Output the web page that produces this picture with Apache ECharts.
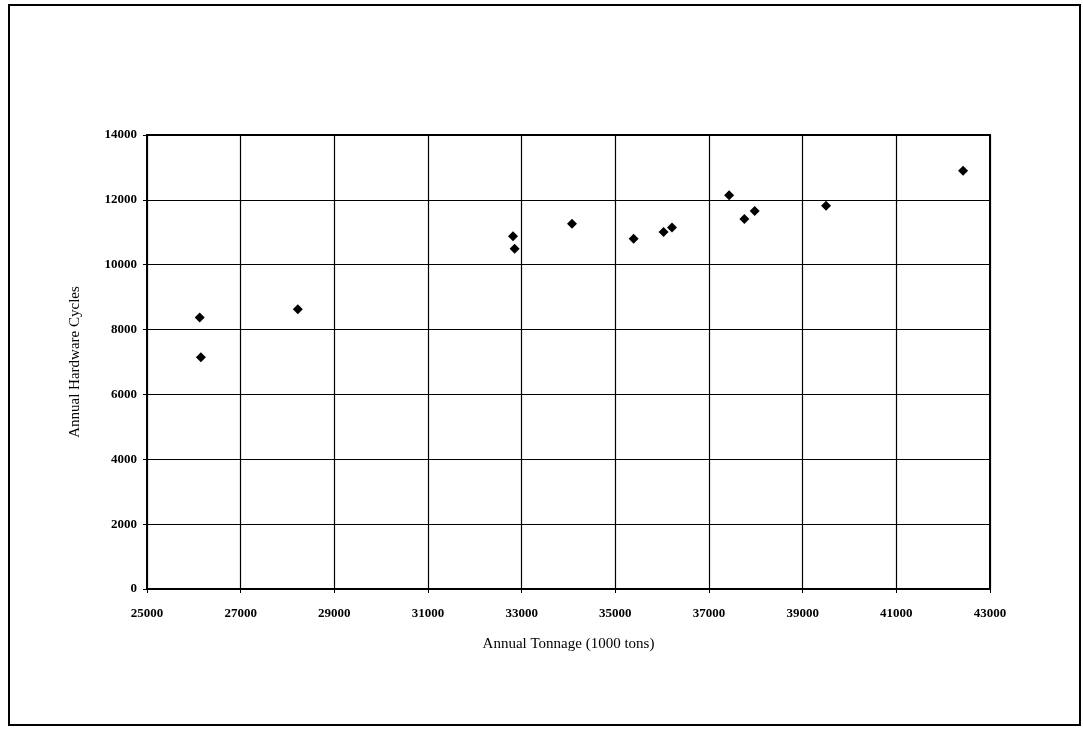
<!DOCTYPE html>
<html><head><meta charset="utf-8">
<script src="https://cdn.jsdelivr.net/npm/echarts@6/dist/echarts.min.js"></script>
<style>html,body{margin:0;padding:0;background:#fff}#c{width:1083px;height:731px}</style>
</head><body><div id="c"></div>
<script>
const tonnage = [26125, 26150, 28220, 32815, 32850, 34075, 35390, 36030, 36210, 37430, 37755, 37975, 39500, 42425];
const cycles  = [8370, 7150, 8630, 10880, 10490, 11260, 10800, 11010, 11150, 12140, 11410, 11660, 11820, 12900];
const xTitle = 'Annual Tonnage (1000 tons)';
const yTitle = 'Annual Hardware Cycles';

const chart = echarts.init(document.getElementById('c'));
const font = '"Liberation Serif", "DejaVu Serif", serif';
chart.setOption({
  animation: false,
  backgroundColor: '#fff',
  graphic: [
    {type:'rect', shape:{x:9,y:5,width:1071,height:720}, style:{fill:'none', stroke:'#000', lineWidth:2}},
    {type:'rect', shape:{x:147,y:135,width:843,height:454}, style:{fill:'none', stroke:'#000', lineWidth:2}, silent:true}
  ],
  grid: {left:147, right:93, top:135, bottom:142, show:false},
  xAxis: {
    type:'value', min:25000, max:43000, interval:2000,
    name:xTitle, nameLocation:'middle', nameGap:48,
    nameTextStyle:{fontFamily:font, fontSize:15, color:'#000'},
    axisLine:{show:true, onZero:false, lineStyle:{color:'#000', width:2}},
    axisTick:{show:true, length:4, lineStyle:{color:'#000'}},
    axisLabel:{fontFamily:font, fontSize:13, fontWeight:'bold', color:'#000', margin:18, formatter:v=>String(v)},
    splitLine:{show:true, lineStyle:{color:'#000', width:1.2}}
  },
  yAxis: {
    type:'value', min:0, max:14000, interval:2000,
    name:yTitle, nameLocation:'middle', nameGap:64,
    nameTextStyle:{fontFamily:font, fontSize:15, color:'#000'},
    axisLine:{show:true, onZero:false, lineStyle:{color:'#000', width:2}},
    axisTick:{show:true, length:4, lineStyle:{color:'#000'}},
    axisLabel:{fontFamily:font, fontSize:13, fontWeight:'bold', color:'#000', margin:10, formatter:v=>String(v)},
    splitLine:{show:true, lineStyle:{color:'#000', width:1.2}}
  },
  series: [{
    type:'scatter', symbol:'diamond', symbolSize:10,
    itemStyle:{color:'#000', opacity:1},
    data: tonnage.map((t,i)=>[t, cycles[i]])
  }]
});
</script></body></html>
